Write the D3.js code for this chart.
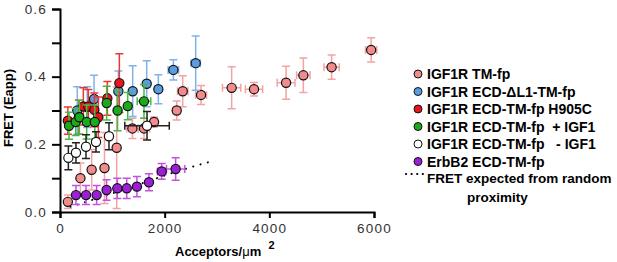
<!DOCTYPE html>
<html>
<head>
    <meta charset="utf-8">
    <title>FRET vs acceptor density</title>
    <script src="https://d3js.org/d3.v7.min.js"></script>
    <style>
        body { margin: 0; background: #fff; }
        text { font-family: "Liberation Sans", Arial, sans-serif; }
    </style>
</head>
<body>
    <div id="chart"></div>

    <script>
        // IGF1R TM-fp
        var tmX    = [150, 390, 605, 850, 1083, 1383, 1605, 1797, 2230, 2345, 2695, 3280, 3707, 4320, 4650, 5190, 5945];
        var tmY    = [0.03, 0.10, 0.125, 0.13, 0.19, 0.247, 0.247, 0.266, 0.30, 0.357, 0.346, 0.367, 0.363, 0.382, 0.404, 0.428, 0.479];
        var tmYErr = [0.02, 0.045, 0.06, 0.105, 0.18, 0.03, 0.03, 0.015, 0.028, 0.046, 0.028, 0.062, 0.02, 0.049, 0.051, 0.036, 0.036];
        var tmXErr = [30, 40, 40, 40, 40, 110, 110, 60, 70, 100, 105, 175, 165, 170, 128, 146, 108];

        // IGF1R ECD-ΔL1-TM-fp
        var l1X    = [330, 520, 650, 1115, 1389, 1657, 1879, 2166, 2593];
        var l1Y    = [0.30, 0.31, 0.334, 0.357, 0.357, 0.379, 0.363, 0.42, 0.44];
        var l1YErr = [0.07, 0.06, 0.07, 0.06, 0.075, 0.068, 0.043, 0.03, 0.08];
        var l1XErr = [30, 30, 40, 40, 50, 60, 60, 100, 90];

        // IGF1R ECD-TM-fp H905C
        var hX    = [150, 360, 446, 541, 656, 733, 905, 1134];
        var hY    = [0.27, 0.28, 0.312, 0.312, 0.302, 0.28, 0.336, 0.381];
        var hYErr = [0.04, 0.05, 0.055, 0.05, 0.05, 0.06, 0.05, 0.087];
        var hXErr = [30, 30, 30, 30, 30, 30, 40, 40];

        // IGF1R ECD-TM-fp + IGF1
        var plusX    = [172, 300, 370, 510, 665, 892, 1100, 1294, 1605];
        var plusY    = [0.255, 0.266, 0.28, 0.266, 0.266, 0.322, 0.30, 0.313, 0.327];
        var plusYErr = [0.04, 0.04, 0.05, 0.05, 0.05, 0.05, 0.06, 0.04, 0.05];
        var plusXErr = [30, 30, 30, 40, 40, 50, 50, 60, 130];

        // IGF1R ECD-TM-fp - IGF1
        var minusX    = [160, 305, 497, 688, 936, 1663];
        var minusY    = [0.16, 0.175, 0.193, 0.207, 0.224, 0.255];
        var minusYErr = [0.035, 0.03, 0.035, 0.03, 0.04, 0.042];
        var minusXErr = [30, 40, 40, 50, 50, 425];

        // ErbB2 ECD-TM-fp
        var erbX    = [305, 497, 700, 890, 1095, 1275, 1470, 1700, 1943, 2210];
        var erbY    = [0.05, 0.05, 0.05, 0.065, 0.07, 0.07, 0.075, 0.088, 0.12, 0.127];
        var erbYErr = [0.028, 0.028, 0.028, 0.03, 0.03, 0.03, 0.03, 0.025, 0.023, 0.033];
        var erbXErr = [40, 40, 40, 50, 50, 50, 50, 50, 80, 175];

        // FRET expected from random proximity
        var randX = [200, 800, 1300, 1850, 2450, 2900];
        var randY = [0.015, 0.045, 0.07, 0.10, 0.13, 0.15];

        var xTicks = [0, 2000, 4000, 6000];
        var yTicks = [0, 0.1, 0.2, 0.3, 0.4, 0.5, 0.6];

        var series = [
            { name: "IGF1R TM-fp", x: tmX, y: tmY, ye: tmYErr, xe: tmXErr, fill: "#f28b8b", bar: "#f4a2a2" },
            { name: "IGF1R ECD-\u0394L1-TM-fp", x: l1X, y: l1Y, ye: l1YErr, xe: l1XErr, fill: "#5b9be0", bar: "#7fb2ea" },
            { name: "IGF1R ECD-TM-fp H905C", x: hX, y: hY, ye: hYErr, xe: hXErr, fill: "#e6141b", bar: "#ee3535" },
            { name: "IGF1R ECD-TM-fp  + IGF1", x: plusX, y: plusY, ye: plusYErr, xe: plusXErr, fill: "#1aaa1a", bar: "#45bb45" },
            { name: "IGF1R ECD-TM-fp   - IGF1", x: minusX, y: minusY, ye: minusYErr, xe: minusXErr, fill: "#ffffff", bar: "#222222" },
            { name: "ErbB2 ECD-TM-fp", x: erbX, y: erbY, ye: erbYErr, xe: erbXErr, fill: "#9b1fd6", bar: "#c452e0" }
        ];

        var width = 617, height = 262;

        var svg = d3.select("#chart").append("svg")
            .attr("width", width)
            .attr("height", height);

        var xScale = d3.scaleLinear().domain([0, 6000]).range([60, 374]);
        var yScale = d3.scaleLinear().domain([0, 0.6]).range([212, 9]);

        // axes
        var xAxis = svg.append("g")
            .attr("transform", "translate(0,212)")
            .call(d3.axisBottom(xScale).tickValues(xTicks).tickSize(6).tickPadding(4).tickFormat(d3.format("d")));
        var yAxis = svg.append("g")
            .attr("transform", "translate(60,0)")
            .call(d3.axisLeft(yScale).tickValues(yTicks).tickSize(8).tickPadding(5)
                .tickFormat(function(d) { return Math.round(d * 10) % 2 === 0 ? d3.format(".1f")(d) : ""; }));

        [xAxis, yAxis].forEach(function(a) {
            a.select(".domain").attr("stroke", "#000").attr("stroke-width", 2);
            a.selectAll(".tick line").attr("stroke", "#000").attr("stroke-width", 2);
            a.selectAll(".tick text").attr("fill", "#333").style("font-size", "13.5px").style("letter-spacing", "1.2px");
        });
        xAxis.selectAll(".tick text").attr("dy", "0.85em");

        // axis titles
        svg.append("text")
            .attr("transform", "translate(13,108) rotate(-90)")
            .attr("text-anchor", "middle")
            .style("font-size", "13px").style("font-weight", "bold")
            .text("FRET (Eapp)");

        var xt = svg.append("text")
            .attr("x", 175).attr("y", 256)
            .attr("xml:space", "preserve")
            .style("white-space", "pre")
            .style("font-size", "13px").style("font-weight", "bold");
        xt.append("tspan").text("Acceptors/");
        xt.append("tspan").style("font-weight", "normal").text("\u03bc");
        xt.append("tspan").text("m  ");
        xt.append("tspan").attr("dy", -7).style("font-size", "11px").text("2");

        // random proximity curve
        var line = d3.line()
            .x(function(d) { return xScale(d[0]); })
            .y(function(d) { return yScale(d[1]); })
            .curve(d3.curveMonotoneX);
        svg.append("path")
            .datum(d3.zip(randX, randY))
            .attr("d", line)
            .attr("fill", "none")
            .attr("stroke", "#000")
            .attr("stroke-width", 2)
            .attr("stroke-linecap", "round")
            .attr("stroke-dasharray", "0.1,7.5");

        var cap = 4;

        series.forEach(function(s) {
            var pts = s.x.map(function(v, i) { return { x: v, y: s.y[i], ye: s.ye[i], xe: s.xe[i] }; });
            var g = svg.append("g");
            var bars = g.append("g").attr("stroke", s.bar).attr("stroke-width", 1.5).attr("fill", "none");

            pts.forEach(function(d) {
                var cx = xScale(d.x), cy = yScale(d.y);
                var y0 = yScale(d.y - d.ye), y1 = yScale(d.y + d.ye);
                var x0 = xScale(d.x - d.xe), x1 = xScale(d.x + d.xe);
                bars.append("path").attr("d",
                    "M" + cx + "," + y0 + "V" + y1 +
                    "M" + (cx - cap) + "," + y0 + "H" + (cx + cap) +
                    "M" + (cx - cap) + "," + y1 + "H" + (cx + cap) +
                    "M" + x0 + "," + cy + "H" + x1 +
                    "M" + x0 + "," + (cy - cap) + "V" + (cy + cap) +
                    "M" + x1 + "," + (cy - cap) + "V" + (cy + cap));
            });

            g.selectAll("circle")
                .data(pts)
                .enter()
                .append("circle")
                .attr("cx", function(d) { return xScale(d.x); })
                .attr("cy", function(d) { return yScale(d.y); })
                .attr("r", 4.6)
                .attr("fill", s.fill)
                .attr("stroke", "#111")
                .attr("stroke-width", 1.2);
        });

        // legend
        var legend = svg.append("g").attr("transform", "translate(418,74)");
        series.forEach(function(s, i) {
            var row = legend.append("g").attr("transform", "translate(0," + (i * 17.5) + ")");
            row.append("circle").attr("r", 4).attr("fill", s.fill).attr("stroke", "#111").attr("stroke-width", 1);
            row.append("text")
                .attr("x", 9).attr("y", 5)
                .attr("xml:space", "preserve")
                .style("white-space", "pre")
                .style("font-size", "14px").style("font-weight", "bold")
                .text(s.name);
        });
        legend.append("line")
            .attr("x1", -12).attr("x2", 6).attr("y1", 100).attr("y2", 100)
            .attr("stroke", "#000").attr("stroke-width", 2.2)
            .attr("stroke-linecap", "round").attr("stroke-dasharray", "0.1,5.5");
        legend.append("text")
            .attr("x", 9).attr("y", 109)
            .style("font-size", "13.5px").style("font-weight", "bold")
            .text("FRET expected from random");
        legend.append("text")
            .attr("x", 49).attr("y", 128)
            .style("font-size", "13.5px").style("font-weight", "bold")
            .text("proximity");
    </script>
</body>
</html>
